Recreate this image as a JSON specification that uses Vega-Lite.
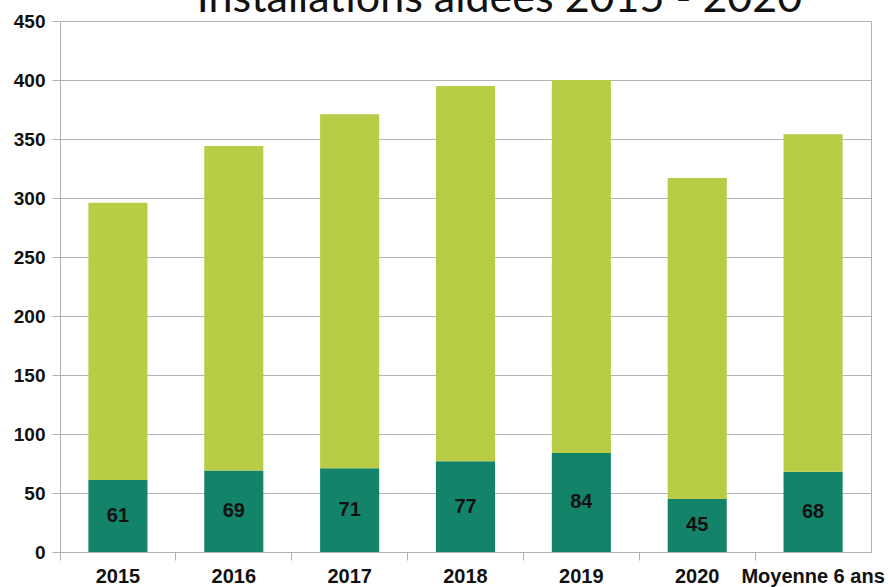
{
  "$schema": "https://vega.github.io/schema/vega-lite/v6.json",
  "autosize": "none",
  "width": 811,
  "height": 531,
  "padding": {"left": 60, "top": 21, "right": 17, "bottom": 35},
  "background": "white",
  "config": {
    "view": {"stroke": "#b3b3b3", "strokeWidth": 1},
    "font": "Liberation Sans"
  },
  "title": {
    "text": "Installations aidées 2015 - 2020",
    "font": "Lato",
    "fontSize": 43,
    "fontWeight": "normal",
    "color": "#111111",
    "anchor": "middle",
    "baseline": "alphabetic",
    "offset": 0,
    "dy": 43,
    "dx": 34
  },
  "data": {
    "values": [
      {"annee": "2015", "type": "aidees", "valeur": 61},
      {"annee": "2015", "type": "autres", "valeur": 235},
      {"annee": "2016", "type": "aidees", "valeur": 69},
      {"annee": "2016", "type": "autres", "valeur": 275},
      {"annee": "2017", "type": "aidees", "valeur": 71},
      {"annee": "2017", "type": "autres", "valeur": 300},
      {"annee": "2018", "type": "aidees", "valeur": 77},
      {"annee": "2018", "type": "autres", "valeur": 318},
      {"annee": "2019", "type": "aidees", "valeur": 84},
      {"annee": "2019", "type": "autres", "valeur": 316},
      {"annee": "2020", "type": "aidees", "valeur": 45},
      {"annee": "2020", "type": "autres", "valeur": 272},
      {"annee": "Moyenne 6 ans", "type": "aidees", "valeur": 68},
      {"annee": "Moyenne 6 ans", "type": "autres", "valeur": 286}
    ]
  },
  "encoding": {
    "x": {
      "field": "annee",
      "type": "nominal",
      "sort": null,
      "scale": {"paddingInner": 0, "paddingOuter": 0},
      "axis": {
        "title": null,
        "labelAngle": 0,
        "labelFont": "Liberation Sans",
        "labelFontSize": 20,
        "labelFontWeight": "bold",
        "labelColor": "#111111",
        "labelPadding": 6,
        "bandPosition": 0,
        "tickSize": 8,
        "tickColor": "#b3b3b3",
        "domainColor": "#b3b3b3",
        "grid": false
      }
    }
  },
  "layer": [
    {
      "mark": {"type": "bar", "width": {"band": 0.51}},
      "encoding": {
        "y": {
          "field": "valeur",
          "type": "quantitative",
          "stack": "zero",
          "scale": {"domain": [0, 450]},
          "axis": {
            "title": null,
            "values": [0, 50, 100, 150, 200, 250, 300, 350, 400, 450],
            "labelFont": "Liberation Sans",
            "labelFontSize": 19,
            "labelFontWeight": "bold",
            "labelColor": "#111111",
            "labelPadding": 7,
            "tickSize": 8,
            "tickColor": "#b3b3b3",
            "domainColor": "#b3b3b3",
            "gridColor": "#b3b3b3",
            "gridWidth": 1
          }
        },
        "color": {
          "field": "type",
          "type": "nominal",
          "scale": {"domain": ["aidees", "autres"], "range": ["#13846a", "#b8cd45"]},
          "legend": null
        },
        "order": {"field": "type", "sort": "ascending"}
      }
    },
    {
      "transform": [
        {"filter": "datum.type === 'aidees'"},
        {"calculate": "datum.valeur / 2", "as": "milieu"}
      ],
      "mark": {
        "type": "text",
        "font": "Liberation Sans",
        "fontSize": 20,
        "fontWeight": "bold",
        "color": "#111111",
        "baseline": "middle"
      },
      "encoding": {
        "y": {"field": "milieu", "type": "quantitative"},
        "text": {"field": "valeur", "type": "quantitative"}
      }
    }
  ]
}
